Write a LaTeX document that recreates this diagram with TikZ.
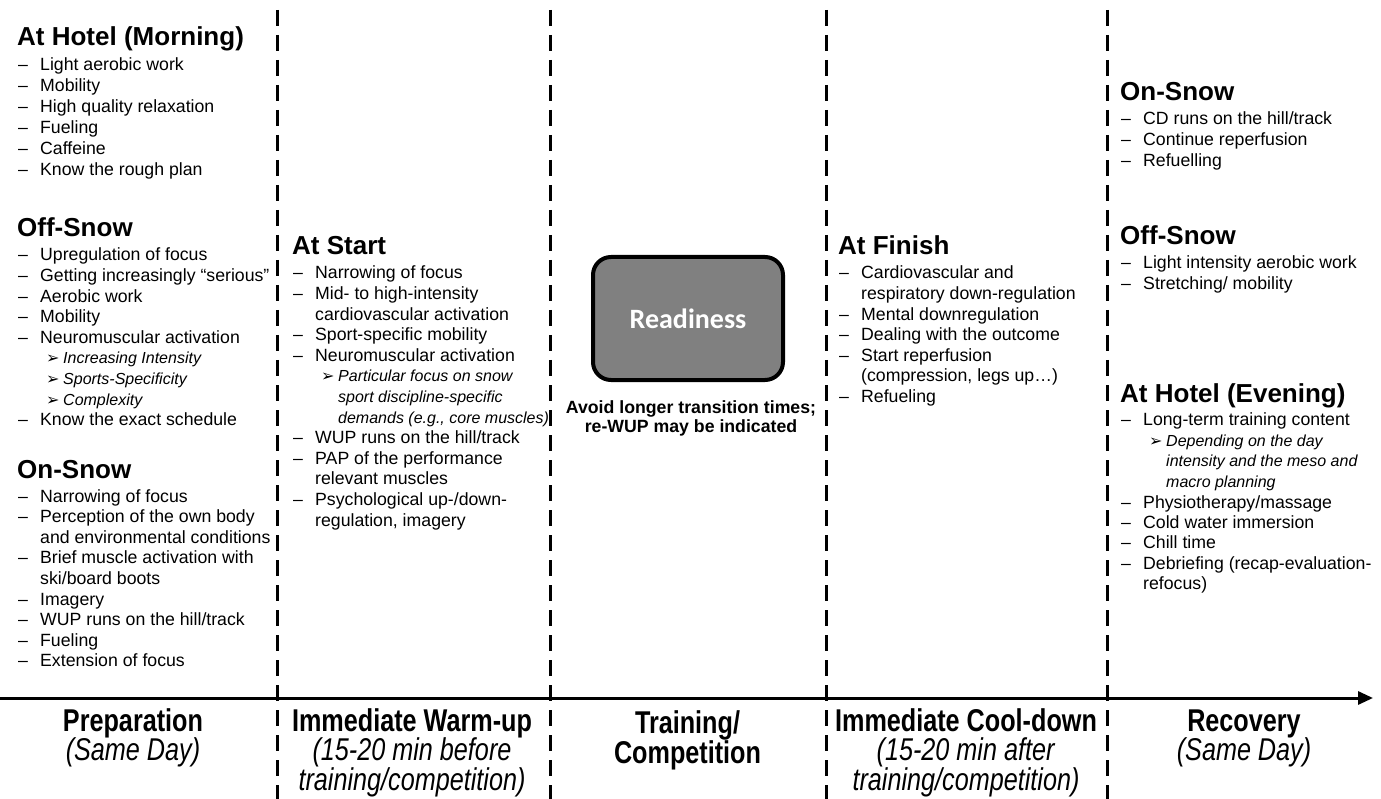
\documentclass[tikz,border=0pt]{standalone}
\usepackage{fontspec}
\setmainfont{Liberation Sans}
\newfontfamily\narrowfont[FakeStretch=0.8]{Liberation Sans}
\newfontfamily\symfont{DejaVu Sans}
\newfontfamily\calfont{Carlito}
\usetikzlibrary{arrows.meta}
\setlength{\parskip}{0pt}
\setlength{\parindent}{0pt}
\newcommand{\hd}[1]{\noindent{\fontsize{26}{30}\selectfont\bfseries #1\par}\vspace{3.4pt}}
\newcommand{\bl}[1]{\par\noindent\hangindent=23pt\hangafter=1\hbox to 23pt{\hspace{1pt}–\hfil}#1\par}
\newcommand{\sbl}[1]{\par\noindent\hangindent=46pt\hangafter=1\hbox to 46pt{\hspace{29pt}{\symfont\fontsize{16}{16}\selectfont ➢}\hfil}{\fontsize{16}{20.6}\selectfont\itshape #1\par}}
\newenvironment{blk}[1][20.6]{\begin{minipage}[t]{300pt}\raggedright\fontsize{17.7}{#1}\selectfont}{\end{minipage}}
\newcommand{\botfont}{\narrowfont\fontsize{31.5}{29.5}\selectfont}
\definecolor{boxgray}{HTML}{808080}
\tikzset{
  sec/.style={anchor=base west, inner sep=0pt},
  divider/.style={line width=3pt, dash pattern=on 16pt off 9pt},
  timeline/.style={line width=3pt, -{Triangle[length=15pt,width=13pt]}},
  readybox/.style={draw, line width=4pt, fill=boxgray, rounded corners=18pt,
    minimum width=190pt, minimum height=123pt, text=white,
    font=\calfont\bfseries\fontsize{28}{30}\selectfont},
  botlab/.style={anchor=base, inner sep=0pt},
  note/.style={anchor=base, inner sep=0pt}
}
\begin{document}
\begin{tikzpicture}[x=1pt,y=-1pt]
\useasboundingbox (0,0) rectangle (1381,799);

% dividers
\foreach \i/\x in {1/277,2/550,3/826,4/1107}{
  \coordinate (d\i top) at (\x,10);
  \coordinate (d\i bot) at (\x,799);
  \draw[divider] (d\i top) -- (d\i bot);
}
% time axis
\coordinate (axstart) at (0,698);
\coordinate (axend) at (1373,698);
\draw[timeline] (axstart) -- (axend);

% Preparation column
\node[sec] (amhotel) at (17,46) {\begin{blk}[21]\hd{At Hotel (Morning)}\bl{Light aerobic work}\bl{Mobility}\bl{High quality relaxation}\bl{Fueling}\bl{Caffeine}\bl{Know the rough plan}\end{blk}};
\node[sec] (offsnowA) at (17,237) {\begin{blk}\hd{Off-Snow}\bl{Upregulation of focus}\bl{Getting increasingly “serious”}\bl{Aerobic work}\bl{Mobility}\bl{Neuromuscular activation}\sbl{Increasing Intensity}\sbl{Sports-Specificity}\sbl{Complexity}\bl{Know the exact schedule}\end{blk}};
\node[sec] (onsnowA) at (17,478) {\begin{blk}\hd{On-Snow}\bl{Narrowing of focus}\bl{Perception of the own body\newline and environmental conditions}\bl{Brief muscle activation with\newline ski/board boots}\bl{Imagery}\bl{WUP runs on the hill/track}\bl{Fueling}\bl{Extension of focus}\end{blk}};

% Warm-up column
\node[sec] (atstart) at (292,255) {\begin{blk}\hd{At Start}\bl{Narrowing of focus}\bl{Mid- to high-intensity\newline cardiovascular activation}\bl{Sport-specific mobility}\bl{Neuromuscular activation}\sbl{Particular focus on snow\newline sport discipline-specific\newline demands (e.g., core muscles)}\bl{WUP runs on the hill/track}\bl{PAP of the performance\newline relevant muscles}\bl{Psychological up-/down-\newline regulation, imagery}\end{blk}};

% Training column
\node[readybox] (ready) at (688,318.5) {Readiness};
\node[note] (avoid) at (691,413) {\begin{minipage}[t]{300pt}\centering\bfseries\fontsize{17.7}{20}\selectfont Avoid longer transition times;\\re-WUP may be indicated\end{minipage}};

% Cool-down column
\node[sec] (atfinish) at (838,255) {\begin{blk}\hd{At Finish}\bl{Cardiovascular and\newline respiratory down-regulation}\bl{Mental downregulation}\bl{Dealing with the outcome}\bl{Start reperfusion\newline (compression, legs up…)}\bl{Refueling}\end{blk}};

% Recovery column
\node[sec] (onsnowB) at (1120,101) {\begin{blk}\hd{On-Snow}\bl{CD runs on the hill/track}\bl{Continue reperfusion}\bl{Refuelling}\end{blk}};
\node[sec] (offsnowB) at (1120,245) {\begin{blk}\hd{Off-Snow}\bl{Light intensity aerobic work}\bl{Stretching/ mobility}\end{blk}};
\node[sec] (pmhotel) at (1120,402) {\begin{blk}[20.4]\hd{At Hotel (Evening)}\bl{Long-term training content}\sbl{Depending on the day\newline intensity and the meso and\newline macro planning}\bl{Physiotherapy/massage}\bl{Cold water immersion}\bl{Chill time}\bl{Debriefing (recap-evaluation-\newline refocus)}\end{blk}};

% bottom phase labels
\node[botlab] (prep) at (133,731) {\begin{minipage}[t]{270pt}\centering\botfont\textbf{Preparation}\\\textit{(Same Day)}\end{minipage}};
\node[botlab] (warm) at (412,731) {\begin{minipage}[t]{270pt}\centering\botfont\textbf{Immediate Warm-up}\\\textit{(15-20 min before}\\\textit{training/competition)}\end{minipage}};
\node[botlab] (train) at (687.5,733) {\begin{minipage}[t]{270pt}\centering\botfont\textbf{Training/}\\\textbf{Competition}\end{minipage}};
\node[botlab] (cool) at (966,731) {\begin{minipage}[t]{290pt}\centering\botfont\textbf{Immediate Cool-down}\\\textit{(15-20 min after}\\\textit{training/competition)}\end{minipage}};
\node[botlab] (recov) at (1244,731) {\begin{minipage}[t]{270pt}\centering\botfont\textbf{Recovery}\\\textit{(Same Day)}\end{minipage}};
\end{tikzpicture}
\end{document}
